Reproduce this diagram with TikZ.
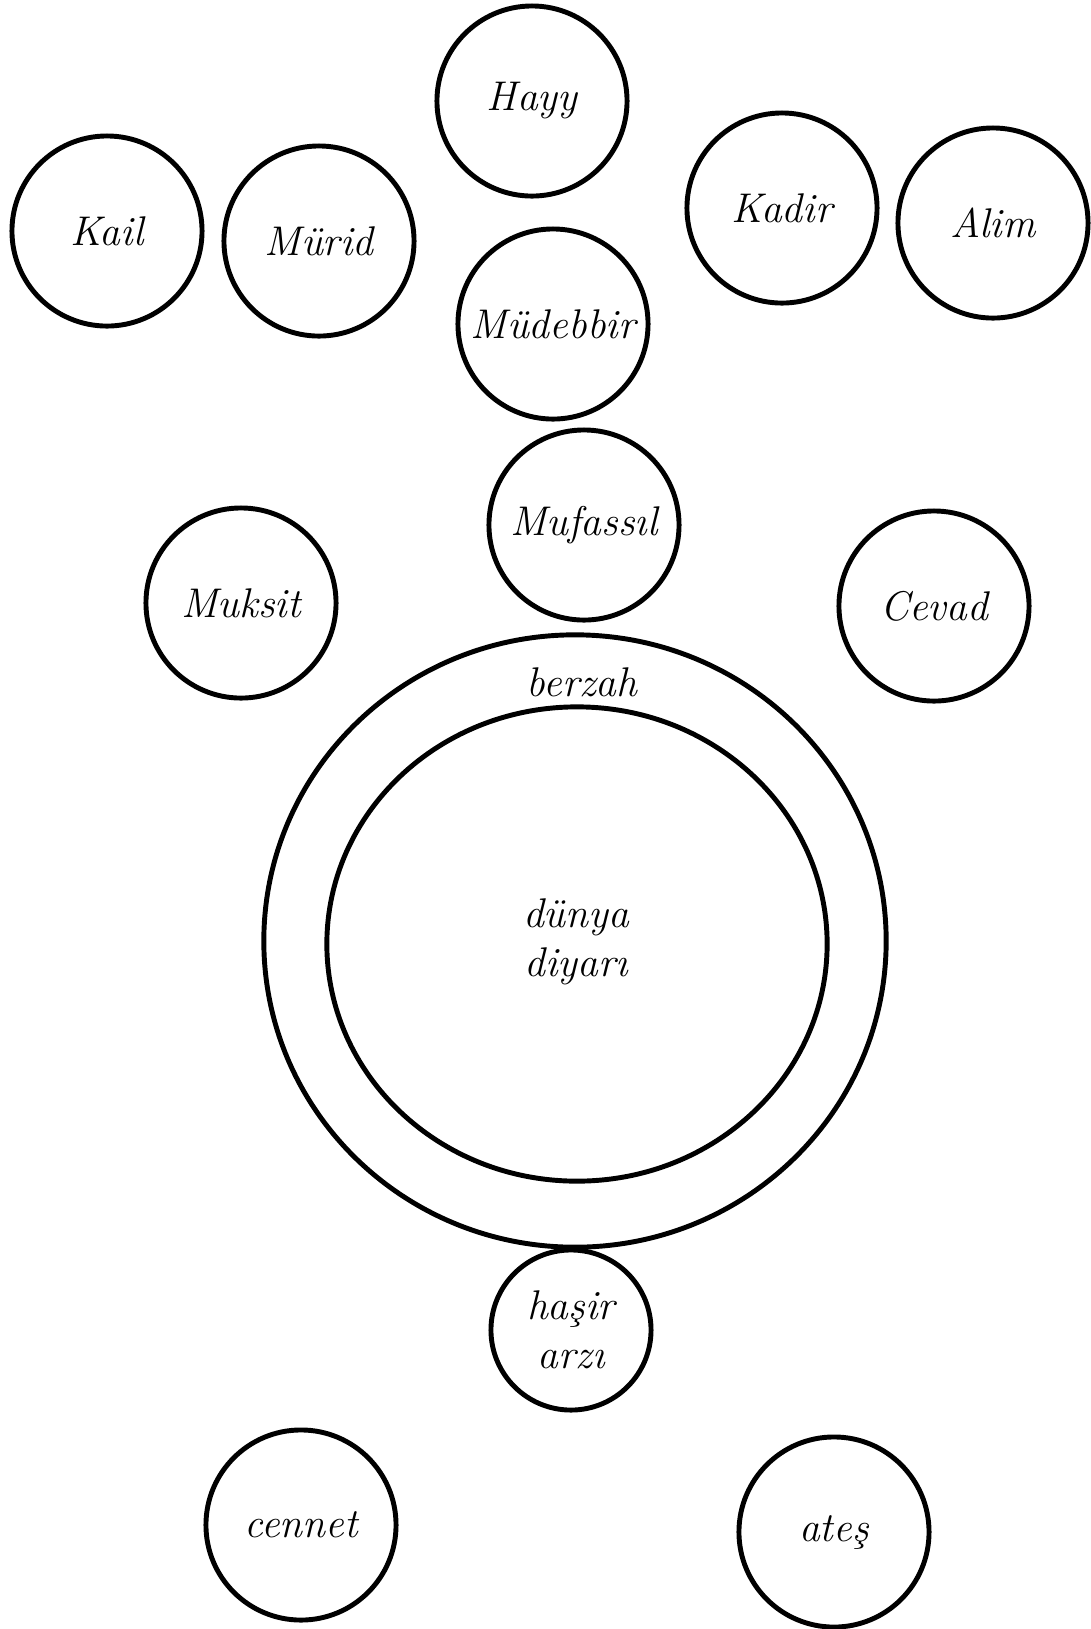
\documentclass[tikz,border=0pt]{standalone}
\usepackage{fontspec}
\usetikzlibrary{shapes.geometric}
\tikzset{
  wordtext/.style={font=\fontsize{11.8}{14}\selectfont\itshape, align=center},
  ring/.style={draw, ellipse, line width=1.4pt, inner sep=0pt}
}
\begin{document}
\begin{tikzpicture}[x=0.01cm, y=-0.01cm]
        \useasboundingbox (0,0) rectangle (1090,1629);
        \begin{scope}[every node/.style={wordtext, draw, circle, line width=1.4pt, minimum size=1.9cm, inner sep=0pt}]
            \node (hayy) at (532, 101) {Hayy};
            \node (kail) at (107, 231) {Kail};
            \node (murid) at (319, 241) {Mürid};
            \node (mudebbir) at (553, 324) {Müdebbir};
            \node (kadir) at (782, 208) {Kadir};
            \node (alim) at (993, 223) {Alim};
            \node (mufassil) at (584, 525) {Mufassıl};
            \node (muksit) at (241, 603) {Muksit};
            \node (cevad) at (934, 606) {Cevad};
            \node[minimum size=1.6cm] (hasir) at (571, 1330) {haşir\\arzı};
            \node (cennet) at (301, 1525) {cennet};
            \node (ates) at (834, 1532) {ateş};
        \end{scope}
        \begin{scope}[every node/.style={ring}]
            \node[minimum width=6.22cm, minimum height=6.12cm] (berzahring) at (575, 941) {};
            \node[minimum width=5.0cm, minimum height=4.74cm] (dunyaring) at (577, 944) {};
        \end{scope}
        \node[wordtext] (berzah) at (582, 682) {berzah};
        \node[wordtext] (dunya) at (576, 942) {dünya\\diyarı};
    \end{tikzpicture}
\end{document}
